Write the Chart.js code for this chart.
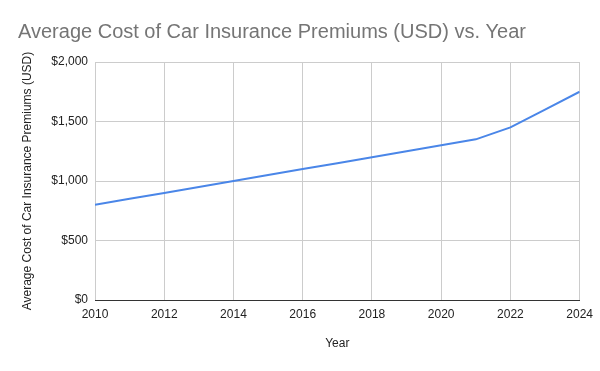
<!DOCTYPE html>
<html>
<head>
<meta charset="utf-8">
<script src="https://cdn.jsdelivr.net/npm/chart.js@4"></script>
<style>
  html, body { margin: 0; padding: 0; background: #fff; }
  #wrap { width: 600px; height: 371px; }
</style>
</head>
<body>
<div id="wrap"><canvas id="myChart" width="600" height="371"></canvas></div>
<script>
// dati
const years = [2010, 2011, 2012, 2013, 2014, 2015, 2016, 2017, 2018, 2019, 2020, 2021, 2022, 2023, 2024];
const premiums = [800, 850, 900, 950, 1000, 1050, 1100, 1150, 1200, 1250, 1300, 1350, 1450, 1600, 1750];
const chartTitle = 'Average Cost of Car Insurance Premiums (USD) vs. Year';
const xTitle = 'Year';
const yTitle = 'Average Cost of Car Insurance Premiums (USD)';

const font = "Arial, 'Liberation Sans', sans-serif";

const ctx = document.getElementById('myChart').getContext('2d');
const myChart = new Chart(ctx, {
    type: 'line',
    data: {
        datasets: [{
            label: 'Premium',
            data: years.map((y, i) => ({ x: y, y: premiums[i] })),
            borderColor: '#4a86e8',
            borderWidth: 2,
            pointRadius: 0,
            tension: 0,
            fill: false
        }]
    },
    options: {
        responsive: false,
        animation: false,
        layout: { padding: { left: 18, right: 17, top: 0, bottom: 0 } },
        plugins: {
            legend: { display: false },
            tooltip: { enabled: false },
            title: {
                display: true,
                text: chartTitle,
                align: 'start',
                color: '#757575',
                font: { family: font, size: 20, weight: 'normal' },
                padding: { top: 20, bottom: 18 }
            }
        },
        scales: {
            x: {
                type: 'linear',
                min: 2010,
                max: 2024,
                ticks: {
                    stepSize: 2,
                    color: '#222',
                    font: { family: font, size: 12 },
                    padding: 7,
                    maxRotation: 0,
                    callback: v => String(v)
                },
                grid: { color: '#cccccc', drawTicks: false },
                border: { color: '#333333', width: 1 },
                title: {
                    display: true,
                    text: xTitle,
                    color: '#222',
                    font: { family: font, size: 12 },
                    padding: { top: 4, bottom: 20 }
                },
                afterFit: s => { s.height = 71; }
            },
            y: {
                min: 0,
                max: 2000,
                ticks: {
                    stepSize: 500,
                    color: '#222',
                    font: { family: font, size: 12 },
                    padding: 7,
                    callback: v => '$' + v.toLocaleString('en-US')
                },
                grid: { color: '#cccccc', drawTicks: false },
                border: { display: false },
                title: {
                    display: true,
                    text: yTitle,
                    color: '#222',
                    font: { family: font, size: 12 },
                    padding: { top: 2, bottom: 0 }
                },
                afterFit: s => { s.width = 77; }
            }
        }
    }
});
</script>
</body>
</html>
